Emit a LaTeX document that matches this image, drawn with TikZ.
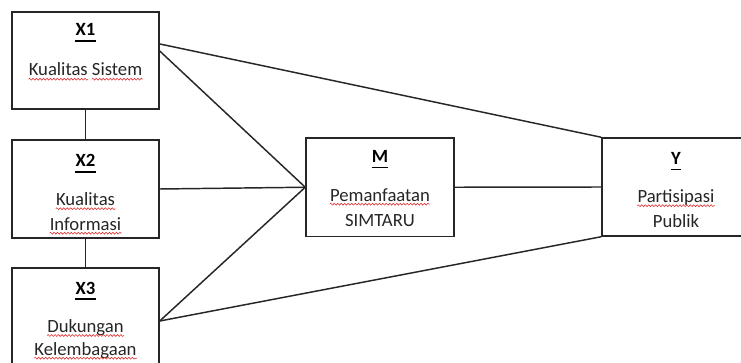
\documentclass[tikz,border=0pt]{standalone}
\usepackage{fontspec}
\setmainfont{Carlito}
\usetikzlibrary{decorations.pathmorphing}
\definecolor{ink}{HTML}{262626}
\definecolor{spell}{HTML}{E03030}
\begin{document}
\begin{tikzpicture}[x=0.75pt,y=-0.75pt,
  box/.style={draw=ink, line width=1.1pt, inner sep=0pt, minimum width=110.25pt},
  link/.style={draw=ink, line width=1.1pt},
  txt/.style={anchor=base, inner sep=0pt, text=ink, font=\fontsize{14}{17}\selectfont},
  lbl/.style={anchor=base, inner sep=0pt, text=black, font=\fontsize{14}{17}\selectfont\bfseries},
  squig/.style={draw=spell, line width=0.45pt, decorate,
    decoration={snake, amplitude=0.7pt, segment length=2.6pt}},
  uline/.style={draw=black, line width=1pt}]
\useasboundingbox (0,0) rectangle (741,363);
\clip (0,0) rectangle (741,363);

% boxes
\node[box, minimum height=72.75pt] (x1) at (85.5,60.5) {};
\node[box, minimum height=73.5pt]  (x2) at (85.5,189) {};
\node[box, minimum height=79.5pt]  (x3) at (85.5,321) {};
\node[box, minimum width=111pt, minimum height=73.9pt] (m) at (380,187.25) {};
\node[box, minimum width=111pt, minimum height=73.5pt] (y) at (676,187) {};

% connectors
\coordinate (x1a) at ([yshift=12.4pt]x1.east);
\coordinate (x1b) at ([yshift=7.1pt]x1.east);
\path[link] (x1.south) -- (x2.north);
\path[link] (x2.south) -- (x3.north);
\path[link] (x1a) -- (y.north west);
\path[link] (x1b) -- (m.west);
\path[link] (x2.east) -- (m.west);
\path[link] (x3.east) -- (m.west);
\path[link] (x3.east) -- (y.south west);
\path[link] (m.east) -- (y.west);

% X1
\node[lbl] (t1) at (85.5,36) {X1};
\path[uline] ([yshift=-3.8pt]t1.base west) -- ([yshift=-3.8pt]t1.base east);
\node[txt] (t1a) at (85.5,76) {Kualitas\vphantom{g} Sistem};
\node[txt, anchor=base west] (t1b) at (t1a.base west) {\phantom{Kualitas}};
\node[txt, anchor=base east] (t1c) at (t1a.base east) {\phantom{Sistem}};
\path[squig] ([yshift=-2.4pt]t1b.base west) -- ([yshift=-2.4pt]t1b.base east);
\path[squig] ([yshift=-2.4pt]t1c.base west) -- ([yshift=-2.4pt]t1c.base east);

% X2
\node[lbl] (t2) at (85.5,167) {X2};
\path[uline] ([yshift=-3.8pt]t2.base west) -- ([yshift=-3.8pt]t2.base east);
\node[txt] (t2a) at (85.5,205.5) {Kualitas};
\node[txt] (t2b) at (85.5,230) {Informasi};
\path[squig] ([yshift=-2.4pt]t2a.base west) -- ([yshift=-2.4pt]t2a.base east);
\path[squig] ([yshift=-2.4pt]t2b.base west) -- ([yshift=-2.4pt]t2b.base east);

% X3
\node[lbl] (t3) at (85.5,294) {X3};
\path[uline] ([yshift=-3.8pt]t3.base west) -- ([yshift=-3.8pt]t3.base east);
\node[txt] (t3a) at (85.5,332.3) {Dukungan};
\node[txt] (t3b) at (85.5,355) {Kelembagaan};
\path[squig] ([yshift=-2.4pt]t3a.base west) -- ([yshift=-2.4pt]t3a.base east);
\path[squig] ([yshift=-2.4pt]t3b.base west) -- ([yshift=-2.4pt]t3b.base east);

% M
\node[lbl] (tm) at (380,162.5) {M};
\path[uline] ([yshift=-3.8pt]tm.base west) -- ([yshift=-3.8pt]tm.base east);
\node[txt] (tma) at (380,201) {Pemanfaatan};
\node[txt] (tmb) at (380,226) {SIMTARU};
\path[squig] ([yshift=-2.4pt]tma.base west) -- ([yshift=-2.4pt]tma.base east);

% Y
\node[lbl] (ty) at (676,164.5) {Y};
\path[uline] ([yshift=-3.8pt]ty.base west) -- ([yshift=-3.8pt]ty.base east);
\node[txt] (tya) at (676,202.5) {Partisipasi};
\node[txt] (tyb) at (676,227.5) {Publik};
\path[squig] ([yshift=-2.4pt]tya.base west) -- ([yshift=-2.4pt]tya.base east);
\end{tikzpicture}
\end{document}
